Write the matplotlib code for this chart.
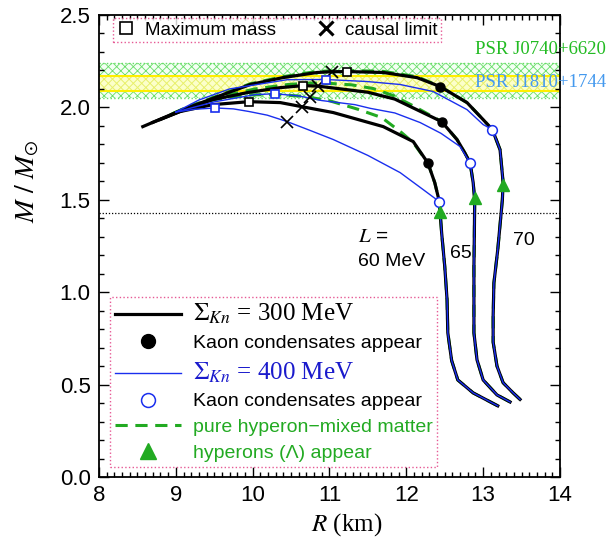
import numpy as np
import matplotlib.pyplot as plt
from matplotlib.lines import Line2D
from matplotlib.ticker import MultipleLocator

plt.rcParams['mathtext.fontset'] = 'stix'
plt.rcParams['font.family'] = ['Liberation Sans', 'DejaVu Sans']
plt.rcParams['hatch.linewidth'] = 0.6

# --- mass-radius curves (R in km, M in solar masses) ---
# common low-mass branch for each L, from the bottom up to the open circle
low60_R = [13.19, 12.87, 12.67, 12.59, 12.54, 12.53, 12.50, 12.46, 12.44, 12.43]
low60_M = [0.385, 0.455, 0.525, 0.63, 0.78, 0.96, 1.14, 1.32, 1.43, 1.49]
low65_R = [13.35, 13.18, 13.0, 12.92, 12.88, 12.88, 12.88, 12.885, 12.89, 12.87, 12.83]
low65_M = [0.406, 0.444, 0.525, 0.634, 0.78, 0.95, 1.14, 1.30, 1.50, 1.593, 1.70]
low70_R = [13.48, 13.39, 13.26, 13.18, 13.13, 13.13, 13.14, 13.19, 13.25, 13.26, 13.22, 13.12]
low70_M = [0.42, 0.455, 0.51, 0.60, 0.73, 0.87, 1.05, 1.23, 1.50, 1.593, 1.771, 1.88]

# Sigma_Kn = 300 MeV (black), from the open circle upward
blk60_R = [12.37, 12.28, 12.09, 11.70, 11.05, 10.64, 10.36, 9.95, 9.48, 9.05, 8.8]
blk60_M = [1.593, 1.70, 1.815, 1.896, 1.972, 2.004, 2.026, 2.031, 2.015, 1.977, 1.935]
blk65_R = [12.76, 12.66, 12.46, 12.27, 12.0, 11.85, 11.5, 11.11, 10.85, 10.66, 10.36, 9.93, 9.48, 9.05, 8.7]
blk65_M = [1.755, 1.826, 1.923, 1.961, 2.015, 2.045, 2.082, 2.102, 2.115, 2.118, 2.107, 2.08, 2.042, 1.977, 1.919]
blk70_R = [13.0, 12.79, 12.44, 12.14, 11.70, 11.23, 11.03, 10.84, 10.39, 9.97, 9.54, 9.09, 8.57]
blk70_M = [1.934, 2.026, 2.113, 2.161, 2.189, 2.194, 2.193, 2.189, 2.161, 2.124, 2.058, 1.988, 1.896]

# Sigma_Kn = 400 MeV (blue), from the open circle upward
blu60_R = [12.22, 11.92, 11.5, 11.05, 10.75, 10.45, 10.19, 9.95, 9.75, 9.51, 9.25, 9.0]
blu60_M = [1.555, 1.647, 1.74, 1.826, 1.875, 1.923, 1.958, 1.978, 1.992, 1.997, 1.99, 1.975]
blu65_R = [12.70, 12.45, 12.18, 11.85, 11.53, 11.33, 10.90, 10.6, 10.29, 10.03, 9.5, 9.0]
blu65_M = [1.788, 1.86, 1.918, 1.97, 1.995, 2.015, 2.037, 2.062, 2.074, 2.069, 2.03, 1.975]
blu70_R = [13.0, 12.79, 12.35, 11.92, 11.49, 10.95, 10.45, 10.0, 9.7, 9.3, 9.0]
blu70_M = [1.907, 1.988, 2.086, 2.124, 2.14, 2.151, 2.15, 2.12, 2.10, 2.04, 1.975]

# pure hyperon-mixed matter (green), from the filled dot upward
grn60_R = [12.09, 11.94, 11.68, 11.37, 11.0, 10.66, 10.3, 10.0, 9.54, 9.2, 8.9]
grn60_M = [1.809, 1.863, 1.945, 1.99, 2.036, 2.06, 2.07, 2.068, 2.045, 2.012, 1.955]
grn65_R = [12.3, 12.11, 11.83, 11.57, 11.29, 11.0, 10.75, 10.46, 10.03, 9.5, 8.9]
grn65_M = [1.96, 2.004, 2.064, 2.102, 2.122, 2.13, 2.132, 2.124, 2.10, 2.05, 1.955]
grn70_R = [12.14, 11.70, 11.23, 10.84, 10.39, 9.97, 9.54, 9.09, 8.9]
grn70_M = [2.166, 2.195, 2.2, 2.195, 2.166, 2.128, 2.062, 1.99, 1.955]

# markers
dot_R, dot_M = [12.28, 12.46, 12.44], [1.70, 1.923, 2.113]
circ_R, circ_M = [12.43, 12.83, 13.12], [1.49, 1.70, 1.88]
tri_R, tri_M = [12.44, 12.89, 13.26], [1.435, 1.51, 1.58]
sqk_R, sqk_M = [9.95, 10.66, 11.23], [2.031, 2.118, 2.194]
sqb_R, sqb_M = [9.51, 10.29, 10.95], [1.997, 2.074, 2.151]
crs_R = [10.45, 10.64, 10.75, 10.85, 11.03]
crs_M = [1.923, 2.004, 2.055, 2.115, 2.194]

# observational bands
psr0740 = (2.05, 2.24)
psr1810 = (2.09, 2.17)
canon_M = 1.43

L_labels = ['60 MeV', '65', '70']

fig = plt.figure(figsize=(6.1, 5.44), dpi=100)
ax = fig.add_axes([0.1623, 0.1232, 0.7557, 0.8492])

# bands
ax.axhspan(*psr0740, facecolor='#f4fff4', edgecolor='#66dd66', hatch='xxxx', lw=0, zorder=0)
ax.axhline(psr0740[0], color='#66dd66', lw=1, ls=':', zorder=0.5)
ax.axhline(psr0740[1], color='#66dd66', lw=1, ls=':', zorder=0.5)
ax.axhspan(*psr1810, facecolor='#ffffc0', edgecolor='#eeee55', hatch='xxxx', lw=0, alpha=0.8, zorder=0.6)
ax.axhline(psr1810[0], color='#ffee00', lw=1.5, zorder=0.7)
ax.axhline(psr1810[1], color='#ffee00', lw=1.5, zorder=0.7)
ax.axhline(canon_M, color='k', lw=0.9, ls=(0, (1, 1.5)), zorder=1)

ax.text(12.9, 2.313, 'PSR J0740+6620', color='#22bb22', fontsize=13.5,
        family='Liberation Serif', va='center', clip_on=False)
ax.text(12.9, 2.134, 'PSR J1810+1744', color='#4499ee', fontsize=13.5,
        family='Liberation Serif', va='center', clip_on=False)

lows = [(low60_R, low60_M), (low65_R, low65_M), (low70_R, low70_M)]
blks = [(blk60_R, blk60_M, 2), (blk65_R, blk65_M, 3), (blk70_R, blk70_M, 3)]
blus = [(blu60_R, blu60_M), (blu65_R, blu65_M), (blu70_R, blu70_M)]
grns = [(grn60_R, grn60_M), (grn65_R, grn65_M), (grn70_R, grn70_M)]

for (lr, lm), (br, bm, nd), (ur, um), (gr, gm) in zip(lows, blks, blus, grns):
    ax.plot(np.r_[lr, br[:nd], gr], np.r_[lm, bm[:nd], gm], color='#22aa22', lw=2.2,
            dashes=(4, 2.5), zorder=2)
    ax.plot(np.r_[lr, br], np.r_[lm, bm], color='k', lw=2.3, zorder=3)
    ax.plot(np.r_[lr, ur], np.r_[lm, um], color='#1a2fee', lw=1.0, zorder=4)

ax.plot(crs_R, crs_M, 'x', color='k', ms=8, mew=1.2, zorder=5)
ax.plot(sqk_R, sqk_M, 's', mfc='white', mec='k', ms=6, mew=1.2, zorder=6)
ax.plot(sqb_R, sqb_M, 's', mfc='white', mec='#1a2fee', ms=6, mew=1.2, zorder=6)
ax.plot(dot_R, dot_M, 'o', color='k', ms=6.5, zorder=6)
ax.plot(circ_R, circ_M, 'o', mfc='white', mec='#1a2fee', ms=7, mew=1.1, zorder=6)
ax.plot(tri_R, tri_M, '^', color='#22aa22', ms=8.5, zorder=6)

ax.text(11.37, 1.30, '$L$ =', fontsize=15, va='center')
ax.text(11.37, 1.165, L_labels[0], fontsize=14, va='center')
ax.text(12.57, 1.21, L_labels[1], fontsize=14, va='center')
ax.text(13.39, 1.28, L_labels[2], fontsize=14, va='center')

ax.set_xlim(8, 14)
ax.set_ylim(0, 2.5)
ax.xaxis.set_major_locator(MultipleLocator(1))
ax.xaxis.set_minor_locator(MultipleLocator(0.1))
ax.yaxis.set_major_locator(MultipleLocator(0.5))
ax.yaxis.set_minor_locator(MultipleLocator(0.1))
ax.yaxis.set_major_formatter(plt.FormatStrFormatter('%.1f'))
ax.tick_params(which='both', direction='in', top=True, right=True, width=1)
ax.tick_params(which='major', length=7, labelsize=16, pad=6)
ax.tick_params(which='minor', length=3.5)
for s in ax.spines.values():
    s.set_linewidth(1.3)

ax.set_xlabel('$R$ (km)', family='Liberation Serif', fontsize=18)
ax.set_ylabel(r'$M\ /\ M_{\odot}$', family='Liberation Serif', fontsize=20)
ax.xaxis.set_label_coords(0.538, -0.075)
ax.yaxis.set_label_coords(-0.125, 0.64)

# top legend
h1 = [Line2D([], [], marker='s', ls='none', mfc='white', mec='k', ms=9, mew=1.2),
      Line2D([], [], marker='x', ls='none', color='k', ms=10, mew=2.2)]
leg1 = ax.legend(h1, ['Maximum mass', 'causal limit'], loc='upper left',
                 bbox_to_anchor=(0.03, 0.994), ncol=2, fontsize=13.5, frameon=True,
                 fancybox=False, borderpad=0.2, handlelength=1.0, handletextpad=0.5,
                 columnspacing=2.2, borderaxespad=0)
leg1.get_frame().set_edgecolor('#e0307a')
leg1.get_frame().set_linestyle(':')
leg1.get_frame().set_linewidth(1)
ax.add_artist(leg1)

# bottom legend
h2 = [Line2D([], [], color='k', lw=2.3),
      Line2D([], [], marker='o', ls='none', color='k', ms=10),
      Line2D([], [], color='#1a2fee', lw=1.0),
      Line2D([], [], marker='o', ls='none', mfc='white', mec='#1a2fee', ms=10, mew=1.1),
      Line2D([], [], color='#22aa22', lw=2.2, dashes=(4, 2.5)),
      Line2D([], [], marker='^', ls='none', color='#22aa22', ms=11)]
lab2 = [r'$\mathit{\Sigma}_{Kn}$ = 300 MeV', 'Kaon condensates appear',
        r'$\mathit{\Sigma}_{Kn}$ = 400 MeV', 'Kaon condensates appear',
        'pure hyperon\u2212mixed matter', 'hyperons (\u039b) appear']
leg2 = ax.legend(h2, lab2, loc='lower left', bbox_to_anchor=(0.024, 0.022),
                 fontsize=14, frameon=True, fancybox=False, borderpad=0.25,
                 handlelength=3.4, handletextpad=0.6, labelspacing=0.42,
                 borderaxespad=0)
leg2.get_frame().set_edgecolor('#e0307a')
leg2.get_frame().set_linestyle(':')
leg2.get_frame().set_linewidth(1)
txt = leg2.get_texts()
for i, c in [(0, 'k'), (2, '#1a1acc')]:
    txt[i].set_family('Liberation Serif')
    txt[i].set_fontsize(18)
    txt[i].set_color(c)
for i in (4, 5):
    txt[i].set_color('#22aa22')

fig.savefig('out.png', dpi=100)
